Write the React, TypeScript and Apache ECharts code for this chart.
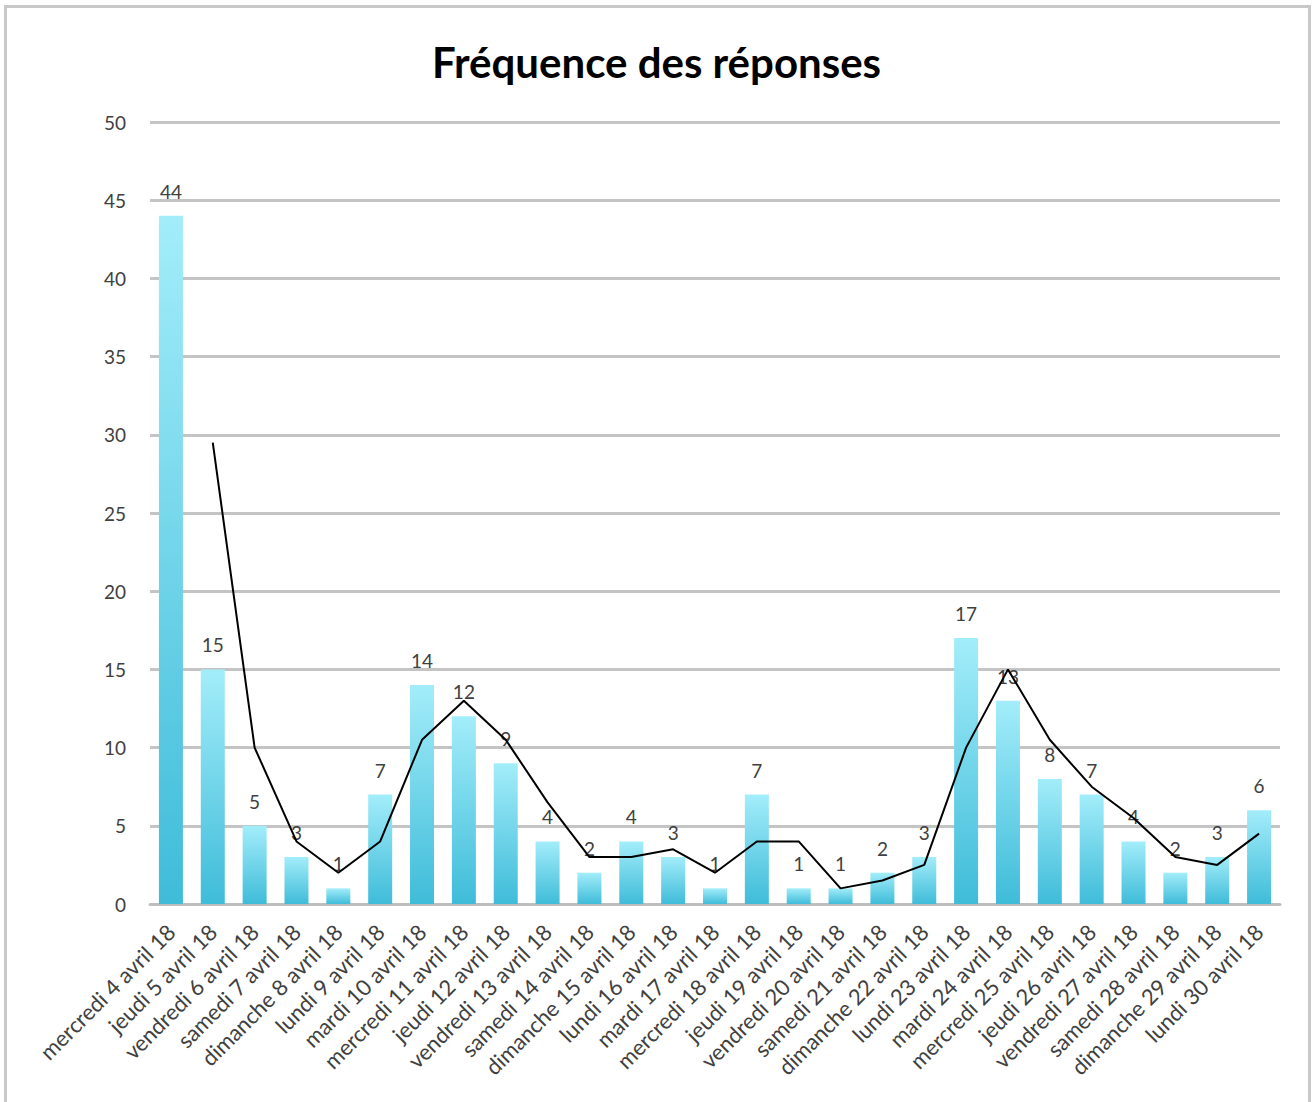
import React, { useEffect, useRef } from "react";
import * as echarts from "echarts";

const categories = [
  "mercredi 4 avril 18", "jeudi 5 avril 18", "vendredi 6 avril 18", "samedi 7 avril 18",
  "dimanche 8 avril 18", "lundi 9 avril 18", "mardi 10 avril 18", "mercredi 11 avril 18",
  "jeudi 12 avril 18", "vendredi 13 avril 18", "samedi 14 avril 18", "dimanche 15 avril 18",
  "lundi 16 avril 18", "mardi 17 avril 18", "mercredi 18 avril 18", "jeudi 19 avril 18",
  "vendredi 20 avril 18", "samedi 21 avril 18", "dimanche 22 avril 18", "lundi 23 avril 18",
  "mardi 24 avril 18", "mercredi 25 avril 18", "jeudi 26 avril 18", "vendredi 27 avril 18",
  "samedi 28 avril 18", "dimanche 29 avril 18", "lundi 30 avril 18",
];

const responses = [44, 15, 5, 3, 1, 7, 14, 12, 9, 4, 2, 4, 3, 1, 7, 1, 1, 2, 3, 17, 13, 8, 7, 4, 2, 3, 6];

// moving average line (starts at second day)
const trend: (number | null)[] = [null, 29.5, 10, 4, 2, 4, 10.5, 13, 10.5, 6.5, 3, 3, 3.5, 2, 4, 4, 1, 1.5, 2.5, 10, 15, 10.5, 7.5, 5.5, 3, 2.5, 4.5];

const yTicks = { min: 0, max: 50, interval: 5 };

const title = "Fréquence des réponses";

export default function App() {
  const ref = useRef<HTMLDivElement>(null);
  useEffect(() => {
    if (!ref.current) return;
    const chart = echarts.init(ref.current, null, { renderer: "svg" });
    chart.setOption({
      animation: false,
      backgroundColor: "#ffffff",
      title: {
        text: title,
        left: "center",
        top: 36,
        textStyle: { fontFamily: "Lato", fontWeight: "bold", fontSize: 42, color: "#000000" },
      },
      graphic: [
        {
          type: "rect",
          shape: { x: 5.5, y: 6.5, width: 1304, height: 1120 },
          style: { fill: "none", stroke: "#c8c8c8", lineWidth: 3 },
          silent: true,
        },
      ],
      grid: { left: 150, right: 33, top: 122, bottom: 198 },
      xAxis: {
        type: "category",
        data: categories,
        axisLine: { show: true, lineStyle: { color: "#bfbfbf", width: 3 } },
        axisTick: { show: false },
        axisLabel: {
          interval: 0,
          rotate: 45,
          fontFamily: "Lato",
          fontSize: 22,
          color: "#404040",
          margin: 24,
        },
      },
      yAxis: {
        type: "value",
        min: yTicks.min,
        max: yTicks.max,
        interval: yTicks.interval,
        axisLine: { show: false },
        axisTick: { show: false },
        splitLine: { lineStyle: { color: "#c4c4c4", width: 3 } },
        axisLabel: { fontFamily: "Lato", fontSize: 19, color: "#404040", margin: 24 },
      },
      series: [
        {
          type: "bar",
          data: responses,
          barWidth: 24,
          itemStyle: {
            color: new echarts.graphic.LinearGradient(0, 0, 0, 1, [
              { offset: 0, color: "#a3edfa" },
              { offset: 1, color: "#3fbcd9" },
            ]),
          },
          label: {
            show: true,
            position: "top",
            distance: 15,
            fontFamily: "Lato",
            fontSize: 19,
            color: "#404040",
          },
          z: 2,
        },
        {
          type: "line",
          data: trend,
          showSymbol: false,
          symbol: "none",
          lineStyle: { color: "#000000", width: 2 },
          connectNulls: false,
          z: 3,
        },
      ],
    });
    return () => chart.dispose();
  }, []);
  return (
    <div
      ref={ref}
      style={{ position: "fixed", left: 0, top: 0, width: 1313, height: 1102 }}
    />
  );
}
